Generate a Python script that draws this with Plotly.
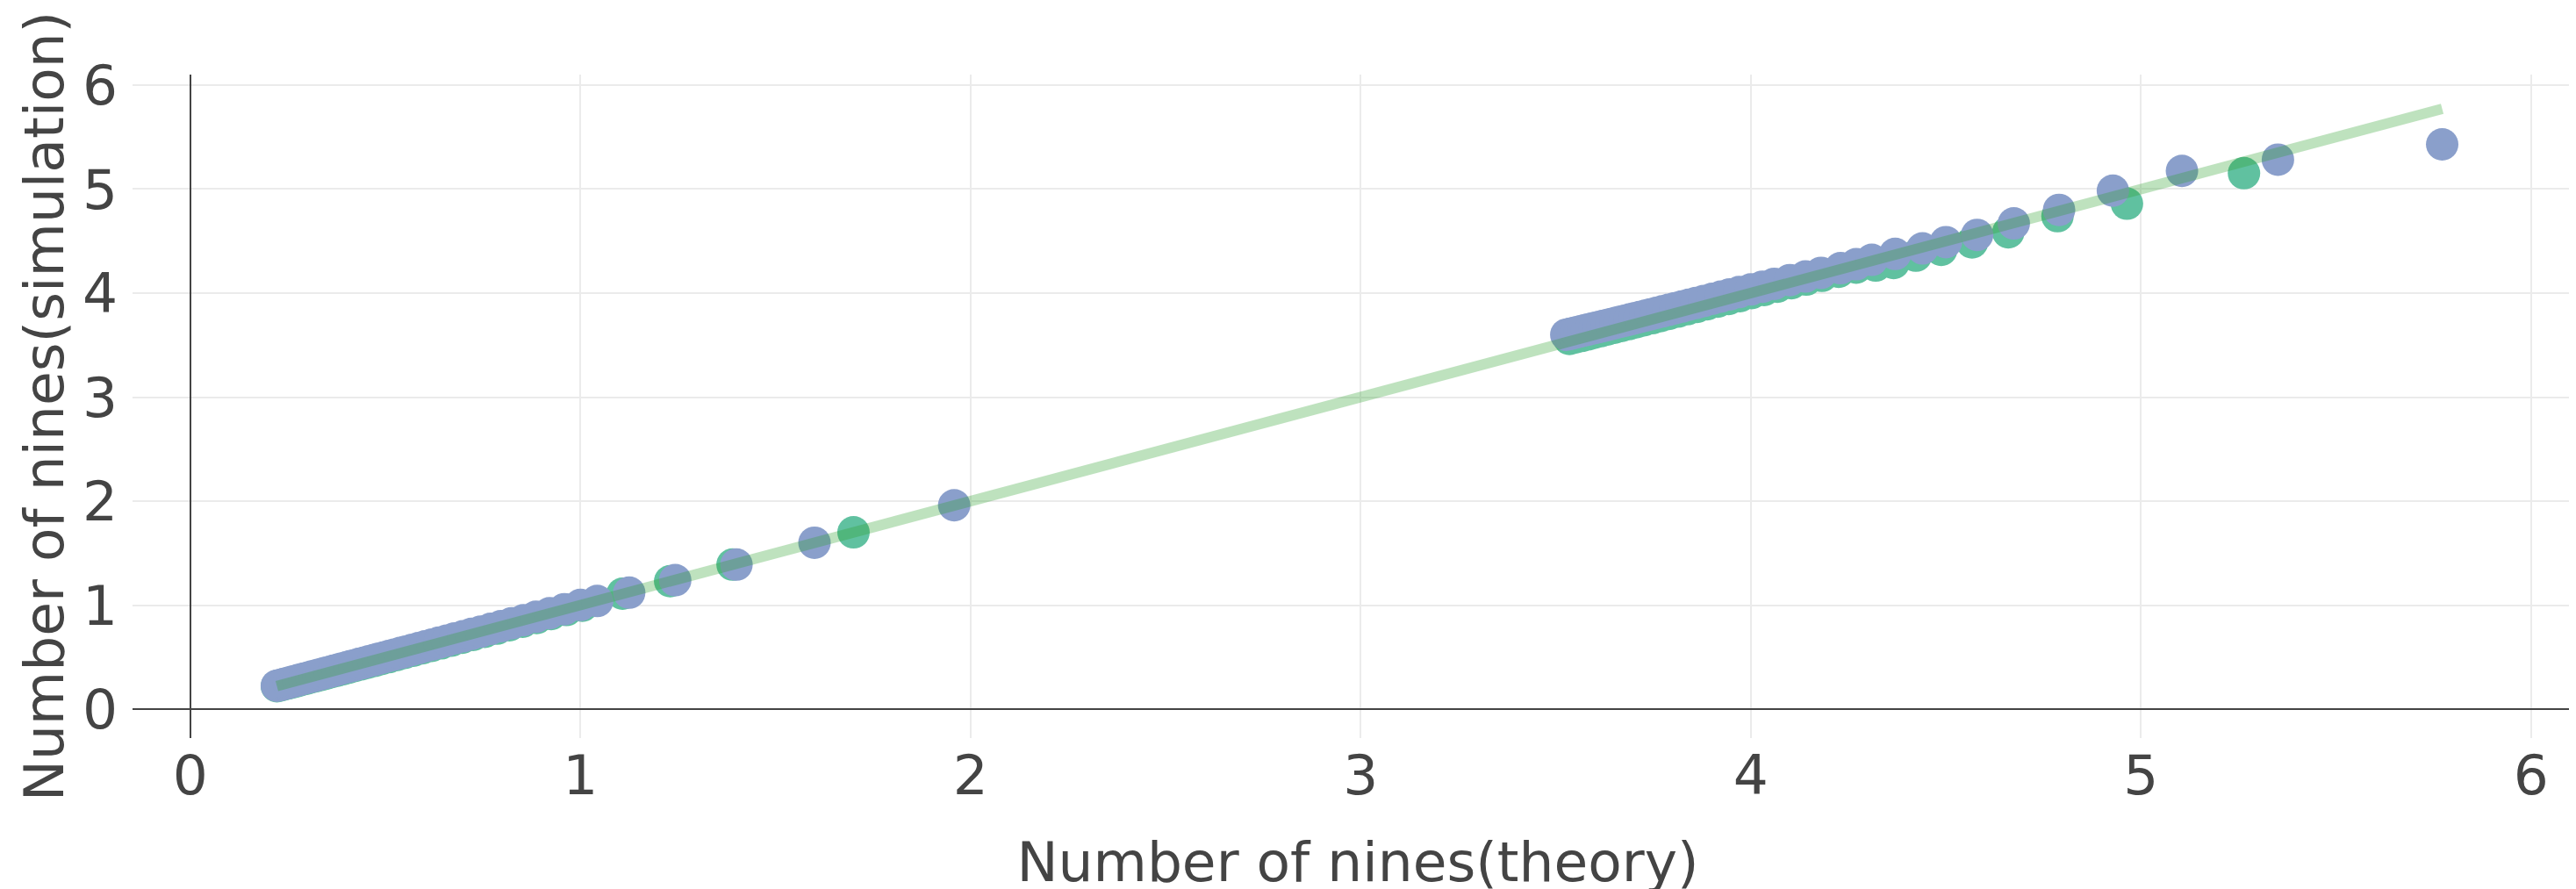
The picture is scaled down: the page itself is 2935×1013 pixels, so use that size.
import plotly.graph_objects as go

# ---------------- data ----------------
# Series A (blue): theory vs simulated number of nines
blue_theory = [0.222, 0.229, 0.237, 0.244, 0.252, 0.260, 0.268, 0.276, 0.284, 0.292,
               0.301, 0.310, 0.319, 0.328, 0.337, 0.347, 0.357, 0.367, 0.377, 0.387,
               0.398, 0.409, 0.420, 0.432, 0.444, 0.456, 0.469, 0.482, 0.495, 0.509,
               0.523, 0.538, 0.553, 0.569, 0.585, 0.602, 0.620, 0.638, 0.658, 0.678,
               0.699, 0.721, 0.745, 0.770, 0.796, 0.824, 0.854, 0.886, 0.921, 0.959,
               1.000, 1.043, 1.125, 1.243, 1.400, 1.600, 1.958,
               3.527, 3.535, 3.544, 3.553, 3.562, 3.571, 3.580, 3.590, 3.600, 3.610,
               3.620, 3.631, 3.642, 3.653, 3.665, 3.677, 3.689, 3.702, 3.715, 3.729,
               3.743, 3.758, 3.773, 3.789, 3.806, 3.823, 3.841, 3.860, 3.880, 3.901,
               3.923, 3.946, 3.970, 4.000, 4.030, 4.060, 4.100, 4.140, 4.180, 4.230,
               4.270, 4.310, 4.370, 4.440, 4.500, 4.580, 4.674, 4.790, 4.928, 5.105,
               5.351, 5.772]
blue_sim = [0.225, 0.231, 0.238, 0.246, 0.253, 0.262, 0.269, 0.278, 0.285, 0.294,
            0.302, 0.312, 0.320, 0.330, 0.338, 0.349, 0.358, 0.369, 0.378, 0.389,
            0.399, 0.411, 0.421, 0.434, 0.445, 0.458, 0.470, 0.484, 0.496, 0.511,
            0.524, 0.540, 0.554, 0.571, 0.586, 0.604, 0.621, 0.640, 0.659, 0.680,
            0.700, 0.723, 0.746, 0.772, 0.797, 0.826, 0.855, 0.888, 0.922, 0.961,
            1.002, 1.040, 1.120, 1.240, 1.390, 1.600, 1.960,
            3.600, 3.607, 3.615, 3.623, 3.631, 3.639, 3.647, 3.656, 3.665, 3.674,
            3.683, 3.693, 3.703, 3.713, 3.724, 3.735, 3.746, 3.758, 3.770, 3.783,
            3.796, 3.810, 3.824, 3.839, 3.855, 3.871, 3.888, 3.906, 3.925, 3.945,
            3.966, 3.988, 4.010, 4.035, 4.062, 4.089, 4.125, 4.160, 4.195, 4.240,
            4.278, 4.320, 4.377, 4.430, 4.490, 4.560, 4.670, 4.800, 4.985, 5.175,
            5.283, 5.430]

# Series B (green): theory vs simulated number of nines
green_theory = [0.222, 0.232, 0.242, 0.252, 0.263, 0.274, 0.285, 0.297, 0.309, 0.321,
                0.334, 0.347, 0.361, 0.375, 0.390, 0.405, 0.421, 0.437, 0.454, 0.472,
                0.490, 0.509, 0.529, 0.550, 0.572, 0.595, 0.619, 0.644, 0.670, 0.697,
                0.725, 0.755, 0.786, 0.818, 0.852, 0.888, 0.925, 0.964, 1.005, 1.108,
                1.230, 1.390, 1.700,
                3.535, 3.550, 3.566, 3.582, 3.598, 3.615, 3.632, 3.650, 3.668, 3.687,
                3.706, 3.726, 3.747, 3.768, 3.790, 3.813, 3.837, 3.862, 3.888, 3.915,
                3.943, 3.972, 4.002, 4.034, 4.068, 4.104, 4.142, 4.182, 4.225, 4.270,
                4.320, 4.366, 4.423, 4.488, 4.567, 4.660, 4.786, 4.964, 5.264]
green_sim = [0.220, 0.229, 0.239, 0.249, 0.259, 0.270, 0.281, 0.292, 0.304, 0.316,
             0.329, 0.341, 0.355, 0.369, 0.383, 0.398, 0.414, 0.430, 0.446, 0.464,
             0.482, 0.500, 0.520, 0.541, 0.562, 0.585, 0.609, 0.633, 0.659, 0.686,
             0.714, 0.743, 0.774, 0.806, 0.840, 0.876, 0.914, 0.953, 0.995, 1.110,
             1.230, 1.390, 1.700,
             3.560, 3.574, 3.588, 3.603, 3.618, 3.634, 3.650, 3.667, 3.684, 3.702,
             3.720, 3.739, 3.759, 3.779, 3.800, 3.822, 3.845, 3.868, 3.893, 3.918,
             3.944, 3.971, 4.000, 4.030, 4.062, 4.095, 4.130, 4.166, 4.205, 4.245,
             4.265, 4.290, 4.360, 4.416, 4.487, 4.585, 4.740, 4.860, 5.153]

# Reference line y = x over the theory range
ref_line = [0.222, 5.772]

tick_vals = [0, 1, 2, 3, 4, 5, 6]
tick_text = ["0", "1", "2", "3", "4", "5", "6"]

x_title = "Number of nines(theory)"
y_title = "Number of nines(simulation)"

FONT = "DejaVu Sans"
TXT = "#444444"

# ---------------- figure ----------------
fig = go.Figure()

fig.add_trace(go.Scatter(
    x=green_theory, y=green_sim, mode="markers", name="B",
    marker=dict(size=37, color="#60c1a0", line=dict(width=0)),
))
fig.add_trace(go.Scatter(
    x=blue_theory, y=blue_sim, mode="markers", name="A",
    marker=dict(size=37, color="#8a9fcb", line=dict(width=0)),
))
fig.add_trace(go.Scatter(
    x=ref_line, y=ref_line, mode="lines", name="theory",
    line=dict(color="#2ca02c", width=12),
    opacity=0.3,
))

axis_common = dict(
    tickvals=tick_vals, ticktext=tick_text,
    showgrid=True, gridcolor="#ebebeb", gridwidth=2,
    zeroline=True, zerolinecolor="#444444", zerolinewidth=2,
    showline=False, ticks="",
    tickfont=dict(family=FONT, size=63, color=TXT),
    automargin=False,
)

fig.update_layout(
    width=2935, height=1013,
    margin=dict(l=143, r=0, t=77, b=180, pad=0),
    paper_bgcolor="white", plot_bgcolor="white",
    font=dict(family=FONT, size=63, color=TXT),
    showlegend=False,
    xaxis=dict(range=[-0.148, 6.133],
               title=dict(text=x_title, font=dict(family=FONT, size=63, color=TXT),
                          standoff=40),
               **axis_common),
    yaxis=dict(range=[-0.278, 6.101], ticklabelstandoff=16,
               title=dict(text=y_title, font=dict(family=FONT, size=63, color=TXT),
                          standoff=0),
               **axis_common),
)

fig.write_html("out.html")
